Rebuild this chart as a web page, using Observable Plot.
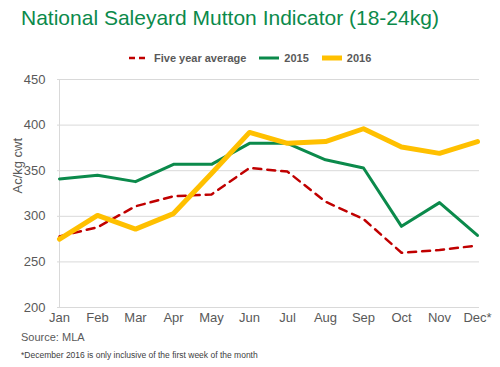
<!DOCTYPE html>
<html><head><meta charset="utf-8">
<script src="https://cdn.jsdelivr.net/npm/d3@7"></script>
<script src="https://cdn.jsdelivr.net/npm/@observablehq/plot@0.6"></script>
<style>
body{margin:0;background:#fff;font-family:"Liberation Sans",Arial,sans-serif;}
#wrap{position:relative;width:500px;height:367px;overflow:hidden;}
#title{position:absolute;left:21px;top:6px;font-size:21px;color:#0b8a4b;white-space:nowrap;}
#legend{position:absolute;top:52px;left:128px;font-size:11px;font-weight:bold;color:#595959;white-space:nowrap;}
#legend span.item{display:inline-flex;align-items:center;margin-right:12px;}
#source{position:absolute;left:21px;top:331px;font-size:11px;color:#595959;}
#note{position:absolute;left:21px;top:350px;font-size:8.5px;color:#404040;white-space:nowrap;}
</style></head>
<body><div id="wrap">
<div id="title">National Saleyard Mutton Indicator (18-24kg)</div>
<div id="legend"></div>
<div id="chart"></div>
<div id="source">Source: MLA</div>
<div id="note">*December 2016 is only inclusive of the first week of the month</div>
</div>
<script>
const months = ["Jan","Feb","Mar","Apr","May","Jun","Jul","Aug","Sep","Oct","Nov","Dec*"];
const fiveYearAvg = [278, 288, 311, 322, 324, 353, 349, 316, 297, 260, 263, 268];
const y2015 = [341, 345, 338, 357, 357, 380, 380, 362, 353, 289, 315, 279];
const y2016 = [275, 301, 286, 303, 347, 392, 380, 382, 396, 376, 369, 382];
const yTicks = [200, 250, 300, 350, 400, 450];
const seriesNames = ["Five year average", "2015", "2016"];
const colors = ["#c00000", "#0b8a4b", "#ffc000"];

const rows = (vals, s) => vals.map((v, i) => ({month: months[i], value: v, series: s}));
const avgRows = rows(fiveYearAvg, seriesNames[0]);
const r2015 = rows(y2015, seriesNames[1]);
const r2016 = rows(y2016, seriesNames[2]);

const chart = Plot.plot({
  width: 500, height: 367,
  marginLeft: 57, marginRight: 21, marginTop: 79, marginBottom: 60,
  style: {fontFamily: "'Liberation Sans', Arial, sans-serif", fontSize: "13px", color: "#595959", background: "transparent"},
  x: {type: "point", domain: months, padding: 0, label: null},
  y: {domain: [200, 450], ticks: yTicks, label: null},
  marks: [
    Plot.gridY(yTicks, {stroke: "#d9d9d9", strokeOpacity: 1, strokeWidth: 1}),
    Plot.ruleX([months[0]], {stroke: "#d9d9d9", strokeWidth: 1}),
    Plot.ruleY([200], {stroke: "#d9d9d9", strokeWidth: 1}),
    Plot.axisY(yTicks, {tickSize: 0, tickPadding: 12, fontSize: 13, fill: "#595959", label: null}),
    Plot.axisX({tickSize: 0, tickPadding: 5, fontSize: 13, fill: "#595959", label: null}),
    Plot.text(["Ac/kg cwt"], {frameAnchor: "left", dx: -40, rotate: -90, fontSize: 13, fill: "#595959"}),
    Plot.line(avgRows, {x: "month", y: "value", stroke: colors[0], strokeWidth: 2.5, strokeDasharray: "8,6"}),
    Plot.line(r2015, {x: "month", y: "value", stroke: colors[1], strokeWidth: 3}),
    Plot.line(r2016, {x: "month", y: "value", stroke: colors[2], strokeWidth: 5})
  ]
});
document.getElementById("chart").appendChild(chart);

const lg = document.getElementById("legend");
const widths = [2.5, 3, 5];
const dashes = ["6,4", null, null];
seriesNames.forEach((n, i) => {
  const sp = document.createElement("span");
  sp.className = "item";
  const d = dashes[i] ? `stroke-dasharray="${dashes[i]}"` : "";
  sp.innerHTML = `<svg width="22" height="10" style="margin-right:4px"><line x1="1" x2="21" y1="5" y2="5" stroke="${colors[i]}" stroke-width="${widths[i]}" ${d}/></svg>${n}`;
  lg.appendChild(sp);
});
</script>
</body></html>
